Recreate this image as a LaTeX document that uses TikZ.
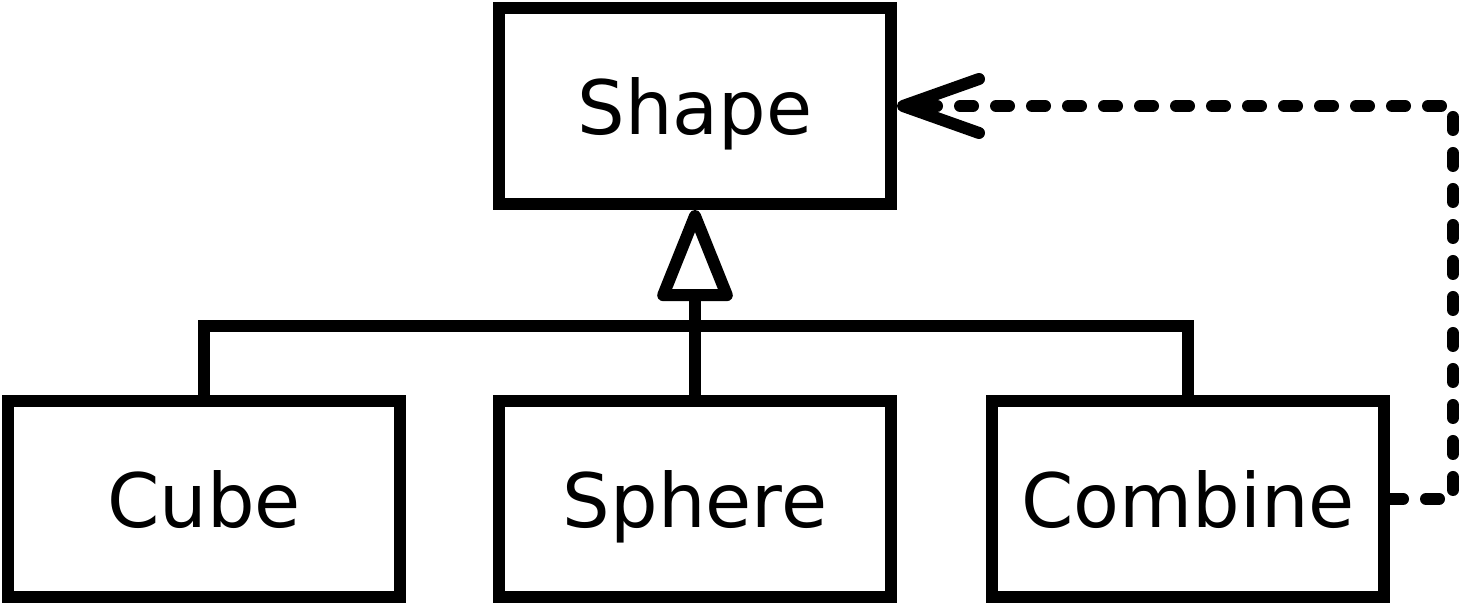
\documentclass[tikz,border=0pt]{standalone}
\usepackage{fontspec}
\setmainfont{DejaVu Sans}
\usetikzlibrary{arrows.meta}

\begin{document}
\begin{tikzpicture}[x=0.5pt, y=0.5pt, line width=6pt,
    font=\fontsize{37.5}{45}\selectfont,
    classbox/.style={draw, minimum width=196pt, minimum height=98pt, inner sep=0pt, text depth=0pt},
    dep/.style={line cap=round, dash pattern=on 6.5pt off 11.5pt}]
  \useasboundingbox (0,0) rectangle (1465,604);

  % Define the class boxes
  \node[classbox] (shape)   at (695,498) {Shape};
  \node[classbox] (cube)    at (204,105) {Cube};
  \node[classbox] (sphere)  at (695,105) {Sphere};
  \node[classbox] (combine) at (1188,105) {Combine};

  % Draw the inheritance tree
  \draw (cube.north) -- ++(0,69) coordinate (bus) -| (combine.north);
  \draw[-{Triangle[open, round, length=51pt, width=39pt]}] (sphere.north) -- (shape.south);

  % Draw the dependency from Combine back to Shape
  \coordinate (turn) at (1453,105);
  \draw[dep, -{Straight Barb[round, length=38pt, width=27pt]}] (combine.east) -- (turn) |- (shape.east);

\end{tikzpicture}
\end{document}
